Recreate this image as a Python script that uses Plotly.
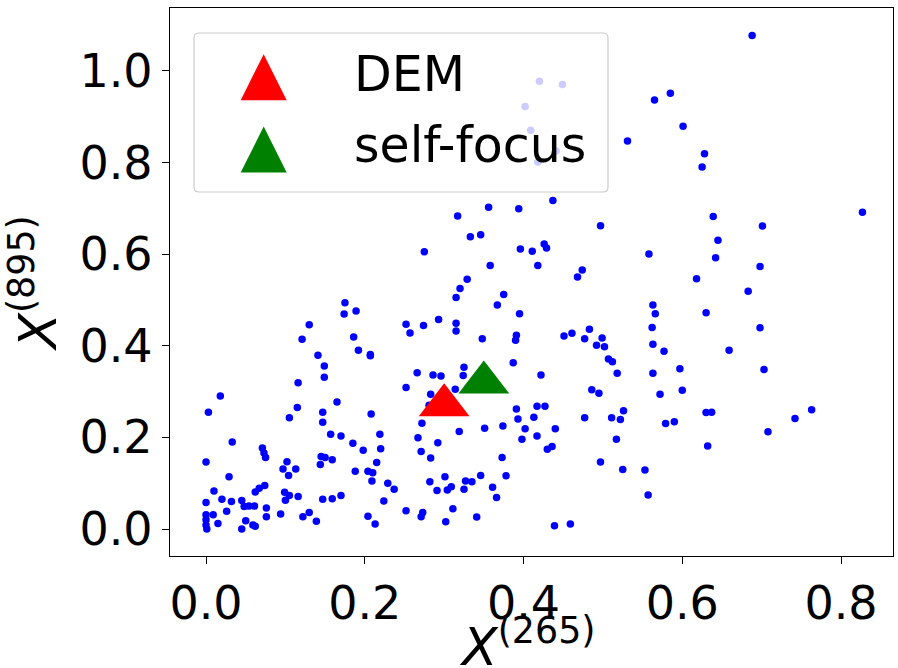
import plotly.graph_objects as go

# ---------------- data ----------------
points_x = [
    0.149, 0.116, 0.252, 0.018, 0.003, 0.115, 0.165, 0.147, 0.147, 0.105,
    0.208, 0.033, 0.157, 0.170, 0.185, 0.198, 0.219, 0.220, 0.000, 0.071,
    0.073, 0.075, 0.102, 0.097, 0.113, 0.104, 0.145, 0.150, 0.159, 0.144,
    0.188, 0.204, 0.210, 0.209, 0.215, 0.029, 0.229, 0.237, 0.224, 0.252,
    0.010, 0.000, 0.020, 0.032, 0.026, 0.045, 0.048, 0.054, 0.061, 0.062,
    0.067, 0.074, 0.076, 0.076, 0.050, 0.045, 0.059, 0.062, 0.000, 0.009,
    0.000, 0.000, 0.001, 0.015, 0.094, 0.099, 0.100, 0.105, 0.116, 0.122,
    0.130, 0.139, 0.147, 0.159, 0.170, 0.204, 0.213,
    0.266, 0.286, 0.296, 0.324, 0.422, 0.518, 0.283, 0.314, 0.281, 0.272,
    0.486, 0.495, 0.391, 0.417, 0.427, 0.393, 0.413, 0.402, 0.440, 0.477,
    0.511, 0.522, 0.526, 0.319, 0.351, 0.374, 0.267, 0.292, 0.398, 0.417,
    0.430, 0.436, 0.517, 0.271, 0.283, 0.373, 0.497, 0.525, 0.553, 0.282,
    0.301, 0.291, 0.304, 0.309, 0.327, 0.335, 0.325, 0.346, 0.361, 0.378,
    0.366, 0.557, 0.273, 0.271, 0.311, 0.302, 0.341, 0.439, 0.459,
    0.563, 0.572, 0.600, 0.630, 0.637, 0.579, 0.590, 0.763, 0.742, 0.708, 0.632,
    0.175, 0.189, 0.174, 0.130, 0.121, 0.186, 0.192, 0.207, 0.207, 0.141,
    0.149, 0.252, 0.257,
    0.437, 0.356, 0.394, 0.317, 0.497, 0.333, 0.346, 0.275, 0.396, 0.411,
    0.426, 0.429, 0.558, 0.358, 0.418, 0.474, 0.468, 0.329, 0.320, 0.315,
    0.375, 0.367, 0.395, 0.274, 0.293, 0.315, 0.315, 0.348, 0.391, 0.390,
    0.387, 0.325, 0.451, 0.461, 0.483, 0.477, 0.499, 0.492, 0.502, 0.507, 0.512,
    0.827, 0.639, 0.701, 0.645, 0.642, 0.698, 0.618, 0.683, 0.563, 0.566,
    0.630, 0.562, 0.698, 0.563, 0.577, 0.659, 0.597, 0.703,
    0.420, 0.449, 0.402, 0.409, 0.441, 0.418,
    0.688, 0.585, 0.565, 0.601, 0.531, 0.628, 0.625,
]
points_y = [
    0.331, 0.319, 0.309, 0.290, 0.255, 0.265, 0.277, 0.255, 0.233, 0.243,
    0.251, 0.190, 0.207, 0.203, 0.187, 0.172, 0.207, 0.175, 0.146, 0.177,
    0.166, 0.156, 0.147, 0.131, 0.131, 0.117, 0.158, 0.156, 0.151, 0.141,
    0.126, 0.126, 0.123, 0.105, 0.145, 0.114, 0.100, 0.087, 0.061, 0.040,
    0.083, 0.058, 0.065, 0.060, 0.039, 0.062, 0.049, 0.050, 0.050, 0.081,
    0.089, 0.095, 0.046, 0.027, 0.018, 0.000, 0.009, 0.006, 0.031, 0.031,
    0.020, 0.009, 0.000, 0.012, 0.033, 0.080, 0.063, 0.073, 0.071, 0.027,
    0.036, 0.017, 0.065, 0.066, 0.073, 0.028, 0.011,
    0.341, 0.336, 0.334, 0.335, 0.336, 0.340, 0.294, 0.305, 0.270, 0.231,
    0.304, 0.296, 0.262, 0.268, 0.268, 0.240, 0.244, 0.219, 0.219, 0.243,
    0.243, 0.239, 0.258, 0.213, 0.220, 0.225, 0.199, 0.188, 0.196, 0.203,
    0.174, 0.180, 0.196, 0.169, 0.155, 0.156, 0.146, 0.130, 0.129, 0.103,
    0.114, 0.084, 0.085, 0.092, 0.105, 0.103, 0.087, 0.117, 0.091, 0.116,
    0.069, 0.074, 0.036, 0.027, 0.044, 0.016, 0.026, 0.007, 0.011,
    0.340, 0.294, 0.303, 0.254, 0.255, 0.230, 0.234, 0.260, 0.241, 0.212, 0.181,
    0.494, 0.476, 0.469, 0.446, 0.414, 0.419, 0.390, 0.381, 0.378, 0.379,
    0.356, 0.447, 0.428,
    0.717, 0.702, 0.699, 0.683, 0.662, 0.638, 0.642, 0.605, 0.611, 0.606,
    0.622, 0.613, 0.600, 0.575, 0.575, 0.565, 0.550, 0.545, 0.525, 0.505,
    0.512, 0.489, 0.470, 0.444, 0.457, 0.449, 0.432, 0.415, 0.423, 0.412,
    0.363, 0.353, 0.421, 0.427, 0.436, 0.415, 0.417, 0.401, 0.398, 0.371, 0.365,
    0.691, 0.682, 0.661, 0.630, 0.592, 0.573, 0.546, 0.519, 0.489, 0.470,
    0.472, 0.440, 0.439, 0.403, 0.388, 0.390, 0.350, 0.348,
    0.977, 0.970, 0.922, 0.870, 0.825, 0.801,
    1.077, 0.951, 0.936, 0.879, 0.847, 0.819, 0.790,
]
dem_x = [0.30]
dem_y = [0.27]
sf_x = [0.35]
sf_y = [0.32]
legend_labels = ["DEM", "self-focus"]
x_ticks = [0.0, 0.2, 0.4, 0.6, 0.8]
y_ticks = [0.0, 0.2, 0.4, 0.6, 0.8, 1.0]
x_title = "<i>X</i><sup>(265)</sup>"
y_title = "<i>X</i><sup>(895)</sup>"

# ---------------- layout helpers ----------------
W, H = 898, 668
L, R, T, B = 170, 5, 8, 112
PW, PH = W - L - R, H - T - B
FONT = "DejaVu Sans"
FS = 46        # tick labels
FS_LEG = 49    # legend text
FS_TITLE = 52  # axis titles


def pxx(x):
    return (x - L) / PW


def pxy(y):
    return (H - B - y) / PH


fig = go.Figure()
fig.add_trace(go.Scatter(x=points_x, y=points_y, mode="markers",
                         marker=dict(color="#0000ff", size=7.5, line=dict(width=0)),
                         showlegend=False, hoverinfo="skip"))
fig.add_trace(go.Scatter(x=dem_x, y=dem_y, mode="markers", name=legend_labels[0],
                         marker=dict(symbol="triangle-up", color="#ff0000", size=44,
                                     line=dict(width=0)),
                         showlegend=False))
fig.add_trace(go.Scatter(x=sf_x, y=sf_y, mode="markers", name=legend_labels[1],
                         marker=dict(symbol="triangle-up", color="#008000", size=44,
                                     line=dict(width=0)),
                         showlegend=False))

# custom legend (matplotlib-like, large symbols)
x0, x1 = pxx(194), pxx(608)
yt, yb = pxy(33), pxy(192)
rx, ry = 5 / PW, 5 / PH
box = (f"M{x0+rx},{yt} L{x1-rx},{yt} Q{x1},{yt} {x1},{yt-ry} L{x1},{yb+ry} "
       f"Q{x1},{yb} {x1-rx},{yb} L{x0+rx},{yb} Q{x0},{yb} {x0},{yb+ry} "
       f"L{x0},{yt-ry} Q{x0},{yt} {x0+rx},{yt} Z")
shapes = [dict(type="path", xref="paper", yref="paper", path=box,
               fillcolor="rgba(255,255,255,0.8)", line=dict(color="#cccccc", width=1.2),
               layer="above")]


def tri(cx, cy, half_w, half_h):
    return (f"M{pxx(cx-half_w)},{pxy(cy+half_h)} L{pxx(cx+half_w)},{pxy(cy+half_h)} "
            f"L{pxx(cx)},{pxy(cy-half_h)} Z")


for cy, col in [(77.2, "#ff0000"), (149.5, "#008000")]:
    shapes.append(dict(type="path", xref="paper", yref="paper", path=tri(263.7, cy, 23, 23),
                       fillcolor=col, line=dict(width=0), layer="above"))

annotations = []
for lab, cy in zip(legend_labels, [74, 146]):
    annotations.append(dict(text=lab, x=pxx(352), y=pxy(cy), xref="paper", yref="paper",
                            xanchor="left", yanchor="middle", showarrow=False,
                            font=dict(family=FONT, size=FS_LEG, color="black")))

# x-axis title as an annotation (the reference label runs to the page edge)
annotations.append(dict(text=x_title, x=pxx(527), y=pxy(607), xref="paper", yref="paper",
                        xanchor="center", yanchor="top", showarrow=False,
                        font=dict(family=FONT, size=FS_TITLE, color="black")))

axis_common = dict(showgrid=False, zeroline=False, showline=True, mirror=True,
                   linecolor="black", linewidth=1.3, ticks="outside", ticklen=7,
                   tickwidth=1.3, tickcolor="black",
                   tickfont=dict(family=FONT, size=FS, color="black"))

fig.update_layout(
    width=W, height=H,
    margin=dict(l=L, r=R, t=T, b=B, autoexpand=False),
    paper_bgcolor="white", plot_bgcolor="white",
    shapes=shapes, annotations=annotations,
    xaxis=dict(range=[-0.0454, 0.8655], tickvals=x_ticks,
               ticktext=[f"{v:.1f}" for v in x_ticks],
               **axis_common),
    yaxis=dict(range=[-0.0589, 1.137], tickvals=y_ticks,
               ticktext=[f"{v:.1f}" for v in y_ticks],
               title=dict(text=y_title, font=dict(family=FONT, size=FS_TITLE, color="black"),
                          standoff=8),
               **axis_common),
    showlegend=False,
)

fig.write_html("out.html")
